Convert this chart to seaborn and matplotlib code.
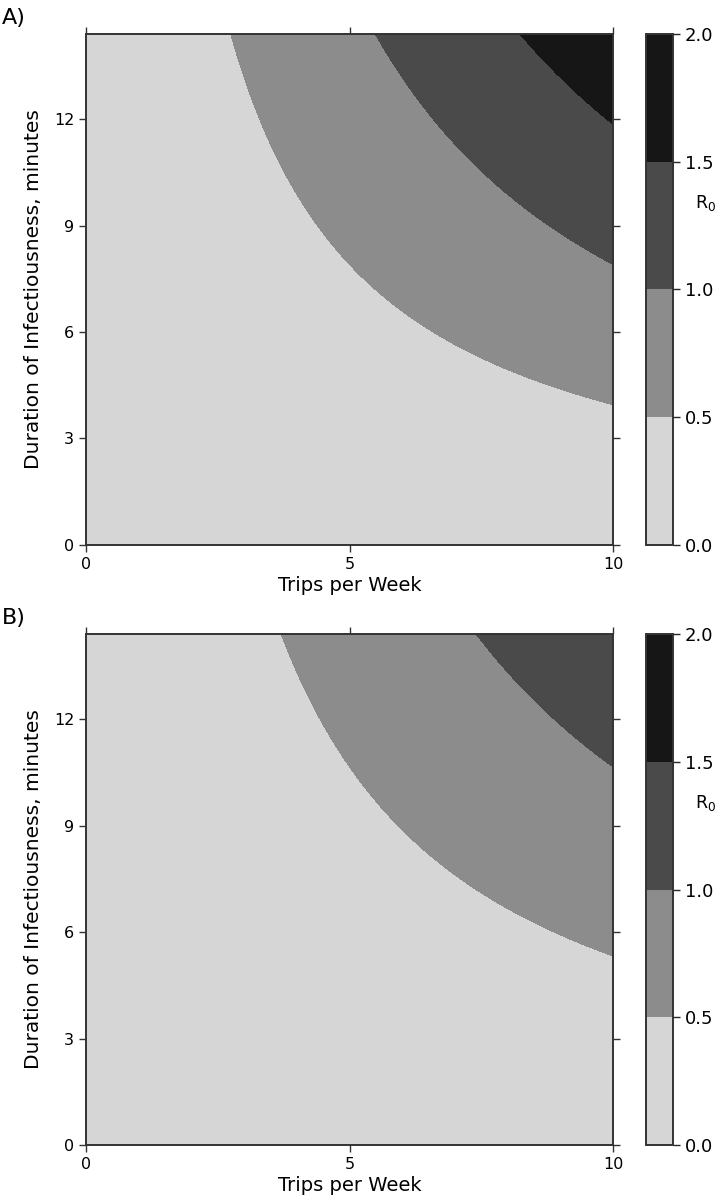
import numpy as np
import matplotlib
matplotlib.use("Agg")
import matplotlib.pyplot as plt
import seaborn as sns

# values
panel_labels = ["A)", "B)"]
# duration (minutes) where each R0 level is crossed at 10 trips/week
r0_levels = [0.5, 1.0, 1.5]
dur_at_10_trips_A = [3.95, 7.91, 11.86]
dur_at_10_trips_B = [5.35, 10.65, 15.95]

trips_max = 10
dur_max = 14.4
x_ticks = [0, 5, 10]
y_ticks = [0, 3, 6, 9, 12]
fill_levels = [0.0, 0.5, 1.0, 1.5, 2.0]
fill_colors = ["#d6d6d6", "#8c8c8c", "#4a4a4a", "#161616"]
cbar_ticks = [0.0, 0.5, 1.0, 1.5, 2.0]


def r0_surface(dur_at_10):
    # R0 grows with trips x minutes; scale taken from where the contours cross x = 10
    per_unit = np.mean([d * trips_max / lv for d, lv in zip(dur_at_10, r0_levels)])
    trips = np.linspace(0, trips_max, 400)
    dur = np.linspace(0, dur_max, 400)
    T, D = np.meshgrid(trips, dur)
    return T, D, T * D / per_unit


sns.set_style("ticks")
plt.rcParams['font.family'] = ['DejaVu Sans']
plt.rcParams['text.color'] = 'black'
plt.rcParams['axes.labelcolor'] = 'black'

fig = plt.figure(figsize=(7.21, 11.99), dpi=100)

panels = [
    (dur_at_10_trips_A, 0.5455),
    (dur_at_10_trips_B, 0.0450),
]

for i, (dur_at_10, bottom) in enumerate(panels):
    ax = fig.add_axes([0.1193, bottom, 0.7309, 0.4262])
    cax = fig.add_axes([0.896, bottom, 0.0374, 0.4262])

    T, D, R = r0_surface(dur_at_10)
    cs = ax.contourf(T, D, R, levels=fill_levels, colors=fill_colors,
                     extend='neither')

    ax.set_xlim(0, trips_max)
    ax.set_ylim(0, dur_max)
    ax.set_xticks(x_ticks)
    ax.set_yticks(y_ticks)
    ax.tick_params(direction='out', length=5, width=1, labelsize=11.5,
                   top=True, right=True, colors='#333333', labelcolor='black')
    for sp in ax.spines.values():
        sp.set_visible(True)
        sp.set_linewidth(1.4)
        sp.set_color('#333333')
    ax.set_xlabel('Trips per Week', fontsize=14, labelpad=3)
    ax.set_ylabel('Duration of Infectiousness, minutes', fontsize=14.5, labelpad=8)

    cb = fig.colorbar(cs, cax=cax, ticks=cbar_ticks, format='%.1f')
    cb.outline.set_linewidth(1.4)
    cb.outline.set_edgecolor('#333333')
    cax.tick_params(direction='out', length=5, width=1, labelsize=13,
                    labelcolor='black')
    cax.text(1.82, 0.67, r'R$_0$', transform=cax.transAxes, fontsize=12.5,
             ha='left', va='center')

    fig.text(0.002, bottom + 0.4262 + 0.0135, panel_labels[i], fontsize=16,
             ha='left', va='center')

fig.savefig('out.png', dpi=100)
